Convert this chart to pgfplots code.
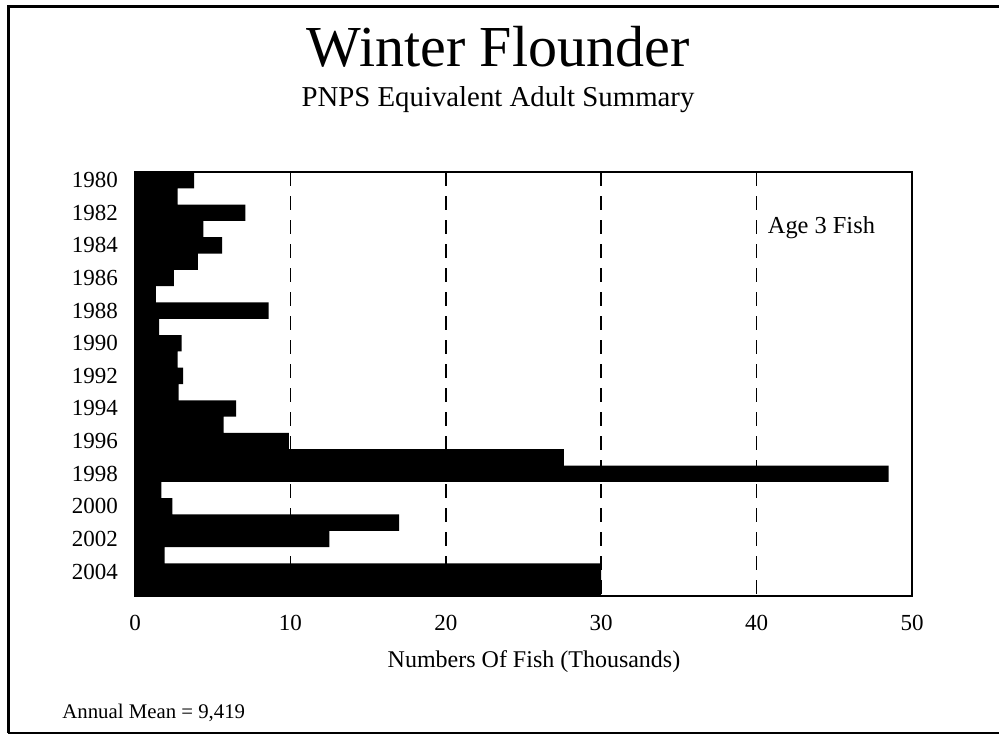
\documentclass[border=0pt]{standalone}
\usepackage{fontspec}
\setmainfont{Liberation Serif}
\usepackage{pgfplots}
\pgfplotsset{compat=1.18}
\pgfplotstableread{
year value
1980 3.8
1981 2.75
1982 7.1
1983 4.4
1984 5.6
1985 4.05
1986 2.5
1987 1.35
1988 8.6
1989 1.55
1990 3.0
1991 2.75
1992 3.1
1993 2.8
1994 6.5
1995 5.7
1996 9.9
1997 27.6
1998 48.5
1999 1.7
2000 2.4
2001 17.0
2002 12.5
2003 1.9
2004 30.0
2005 30.0
}\fishdata
\begin{document}
\begin{tikzpicture}
\useasboundingbox (0,0) rectangle (499.5pt,368pt);
\draw[line width=1.5pt] (4pt,1.5pt) -- (4pt,365pt) -- (499.5pt,365pt);
\draw[line width=1.2pt] (4pt,1.5pt) -- (499.5pt,1.5pt);
\node[font=\fontsize{29}{34}\selectfont] at (249pt,344.5pt) {Winter Flounder};
\node[font=\fontsize{14.4}{17}\selectfont] at (249pt,318pt) {PNPS Equivalent Adult Summary};
\begin{axis}[
  at={(67.5pt,70pt)}, anchor=south west,
  scale only axis, width=388.5pt, height=212pt,
  xmin=0, xmax=50, ymin=1979.5, ymax=2005.5,
  y dir=reverse,
  xtick={0,10,...,50},
  ytick={1980,1982,...,2004},
  major tick length=0pt,
  xmajorgrids, grid style={black, line width=0.8pt, dash pattern=on 7pt off 5pt},
  axis line style={line width=0.8pt},
  /pgf/number format/assume math mode=true,
  /pgf/number format/1000 sep={},
  tick label style={font=\fontsize{11.5}{13}\selectfont},
  xticklabel style={yshift=-6pt},
  yticklabel style={xshift=-5pt},
  clip=false,
]
\addplot[xbar, bar width=1, fill=black, draw=none] table[x=value, y=year] {\fishdata};
\node[anchor=west, font=\fontsize{12.2}{14}\selectfont, inner sep=0pt] at (axis cs:40.7,1982.9) {Age 3 Fish};
\end{axis}
\node[font=\fontsize{12}{14}\selectfont] at (267pt,37pt) {Numbers Of Fish (Thousands)};
\node[anchor=west, inner sep=0pt, font=\fontsize{10.4}{12}\selectfont] at (31pt,11.5pt) {Annual Mean = 9,419};
\end{tikzpicture}
\end{document}
